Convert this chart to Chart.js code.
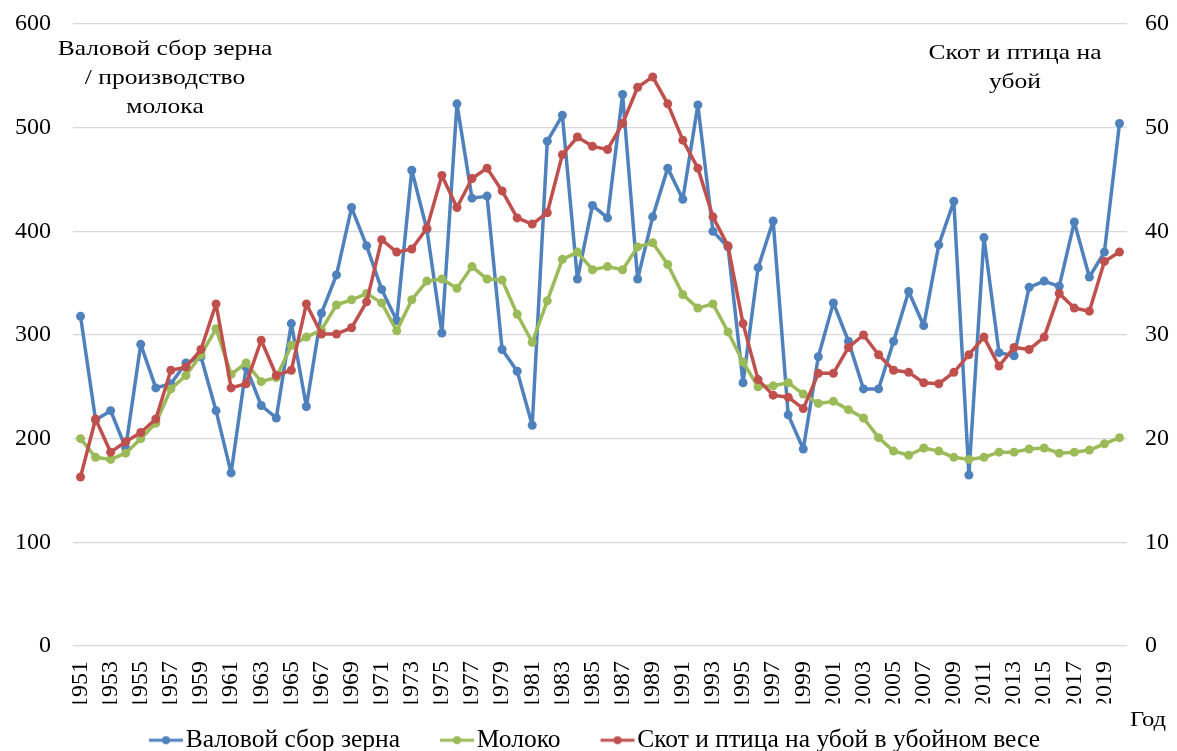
<!DOCTYPE html>
<html>
<head>
<meta charset="utf-8">
<script src="https://cdn.jsdelivr.net/npm/chart.js@4.4.1/dist/chart.umd.min.js"></script>
<style>
  html, body { margin: 0; padding: 0; background: #fff; }
  #wrap { width: 1177px; height: 751px; position: relative; }
</style>
</head>
<body>
<div id="wrap"><canvas id="c" width="1177" height="751"></canvas></div>
<script>
const years = ['1951','1952','1953','1954','1955','1956','1957','1958','1959','1960',
  '1961','1962','1963','1964','1965','1966','1967','1968','1969','1970',
  '1971','1972','1973','1974','1975','1976','1977','1978','1979','1980',
  '1981','1982','1983','1984','1985','1986','1987','1988','1989','1990',
  '1991','1992','1993','1994','1995','1996','1997','1998','1999','2000',
  '2001','2002','2003','2004','2005','2006','2007','2008','2009','2010',
  '2011','2012','2013','2014','2015','2016','2017','2018','2019','2020'];

const grain = [318,218,227,191,291,249,253,273,279,227,
  167,269,232,220,311,231,321,358,423,386,
  344,314,459,402,302,523,432,434,286,265,
  213,487,512,354,425,413,532,354,414,461,
  431,522,400,385,254,365,410,223,190,279,
  331,294,248,248,294,342,309,387,429,165,
  394,283,280,346,352,347,409,356,380,504];

const milk = [200,182,180,186,200,215,248,261,281,306,
  262,273,255,259,290,298,305,329,334,340,
  331,304,334,352,354,345,366,354,353,320,
  293,333,373,380,363,366,363,385,389,368,
  339,326,330,303,274,250,251,254,243,234,
  236,228,220,201,188,184,191,188,182,180,
  182,187,187,190,191,186,187,189,195,201];

const livestock = [16.3,21.9,18.7,19.7,20.6,21.9,26.6,26.9,28.6,33.0,
  24.9,25.3,29.5,26.1,26.6,33.0,30.1,30.1,30.7,33.2,
  39.2,38.0,38.3,40.3,45.4,42.3,45.1,46.1,43.9,41.3,
  40.7,41.8,47.4,49.1,48.2,47.9,50.4,53.9,54.9,52.3,
  48.8,46.1,41.4,38.6,31.1,25.7,24.2,24.0,22.9,26.3,
  26.3,28.8,30.0,28.1,26.6,26.4,25.4,25.3,26.4,28.1,
  29.8,27.0,28.8,28.6,29.8,34.0,32.6,32.3,37.1,38.0];

const seriesNames = ['Валовой сбор зерна', 'Молоко', 'Скот и птица на убой в убойном весе'];
const leftTicks = [0, 100, 200, 300, 400, 500, 600];
const rightTicks = [0, 10, 20, 30, 40, 50, 60];
const leftNote = ['Валовой сбор зерна', '/ производство', 'молока'];
const rightNote = ['Скот и птица на', 'убой'];
const xTitle = 'Год';

const FONT = '"Liberation Serif", "Times New Roman", serif';
const TFS = 24;     // tick font
const LFS = 25.5;   // legend font
const NFS = 22;     // note font (stretched)
const COLORS = ['#4F81BD', '#9BBB59', '#C0504D'];

const PSW = 56;
const LEG_DY = 16;
const LEG_DX = -10;
function legendImage(color) {
  const w = Math.round(PSW + LFS - 4), h = 12;
  const cv = document.createElement('canvas');
  cv.width = w; cv.height = h;
  const g = cv.getContext('2d');
  g.strokeStyle = color; g.lineWidth = 3;
  g.beginPath(); g.moveTo(w - 35, h / 2); g.lineTo(w - 1, h / 2); g.stroke();
  g.fillStyle = color;
  g.beginPath(); g.arc(w - 18, h / 2, 4, 0, Math.PI * 2); g.fill();
  return cv;
}
const legendImgs = COLORS.map(legendImage);

function stretchedText(ctx, t, cx, by, sx) {
  ctx.save();
  ctx.translate(cx, by);
  ctx.scale(sx, 1);
  ctx.fillText(t, 0, 0);
  ctx.restore();
}

const notesPlugin = {
  id: 'notes',
  afterLayout(chart) {
    const L = chart.legend;
    if (L) { L.top += LEG_DY; L.bottom += LEG_DY; L.left += LEG_DX; L.right += LEG_DX; }
  },
  afterDraw(chart) {
    const ctx = chart.ctx;
    ctx.save();
    ctx.fillStyle = '#000';
    ctx.font = NFS + 'px ' + FONT;
    ctx.textAlign = 'center';
    ctx.textBaseline = 'alphabetic';
    leftNote.forEach((t, i) => stretchedText(ctx, t, 165, 55 + i * 29, 1.16));
    rightNote.forEach((t, i) => stretchedText(ctx, t, 1015, 59 + i * 29, 1.16));
    stretchedText(ctx, xTitle, 1148, 726, 1.12);
    ctx.restore();
  }
};

const mk = (i, data, axis, order) => ({
  label: seriesNames[i],
  data: data,
  yAxisID: axis,
  borderColor: COLORS[i],
  backgroundColor: COLORS[i],
  borderWidth: 3.5,
  borderJoinStyle: 'round',
  borderCapStyle: 'round',
  pointRadius: 4.5,
  pointBorderWidth: 0,
  pointHoverRadius: 4.5,
  tension: 0,
  order: order
});

new Chart(document.getElementById('c'), {
  type: 'line',
  data: {
    labels: years,
    datasets: [
      mk(0, grain, 'y', 3),
      mk(1, milk, 'y', 2),
      mk(2, livestock, 'y1', 1)
    ]
  },
  options: {
    responsive: false,
    animation: false,
    devicePixelRatio: 1,
    layout: { padding: { top: 0, left: 0, right: 0, bottom: 4 } },
    plugins: {
      tooltip: { enabled: false },
      legend: {
        position: 'bottom',
        labels: {
          usePointStyle: true,
          pointStyleWidth: PSW,
          padding: 8,
          color: '#000',
          font: { family: FONT, size: LFS },
          generateLabels(chart) {
            return chart.data.datasets.map((ds, i) => ({
              text: ds.label,
              fillStyle: COLORS[i],
              strokeStyle: COLORS[i],
              fontColor: '#000',
              lineWidth: 0,
              pointStyle: legendImgs[i],
              hidden: false,
              datasetIndex: i
            }));
          }
        }
      }
    },
    scales: {
      x: {
        type: 'category',
        offset: true,
        grid: { display: false, drawTicks: false },
        border: { display: false },
        ticks: {
          autoSkip: false,
          maxRotation: 90,
          minRotation: 90,
          padding: 15,
          color: '#000',
          font: { family: FONT, size: TFS },
          callback: (v, i) => (i % 2 === 0 ? years[i] : '')
        },
        afterFit(a) {
          const lh = a.chart.legend ? a.chart.legend.height : 40;
          a.height = Math.max(10, 751 - 646 - lh - 4);
        }
      },
      y: {
        position: 'left',
        min: leftTicks[0],
        max: leftTicks[leftTicks.length - 1],
        afterBuildTicks(a) { a.ticks = leftTicks.map(v => ({ value: v })); },
        grid: { color: '#D9D9D9', lineWidth: 1.3, drawTicks: false },
        border: { display: false },
        ticks: { padding: 22, color: '#000', font: { family: FONT, size: TFS, lineHeight: 0.17 } },
        afterFit(a) { a.width = 73; }
      },
      y1: {
        position: 'right',
        min: rightTicks[0],
        max: rightTicks[rightTicks.length - 1],
        afterBuildTicks(a) { a.ticks = rightTicks.map(v => ({ value: v })); },
        grid: { display: false, drawTicks: false },
        border: { display: false },
        ticks: { padding: 18, color: '#000', font: { family: FONT, size: TFS, lineHeight: 0.17 } },
        afterFit(a) { a.width = 50; }
      }
    }
  },
  plugins: [notesPlugin]
});
</script>
</body>
</html>
